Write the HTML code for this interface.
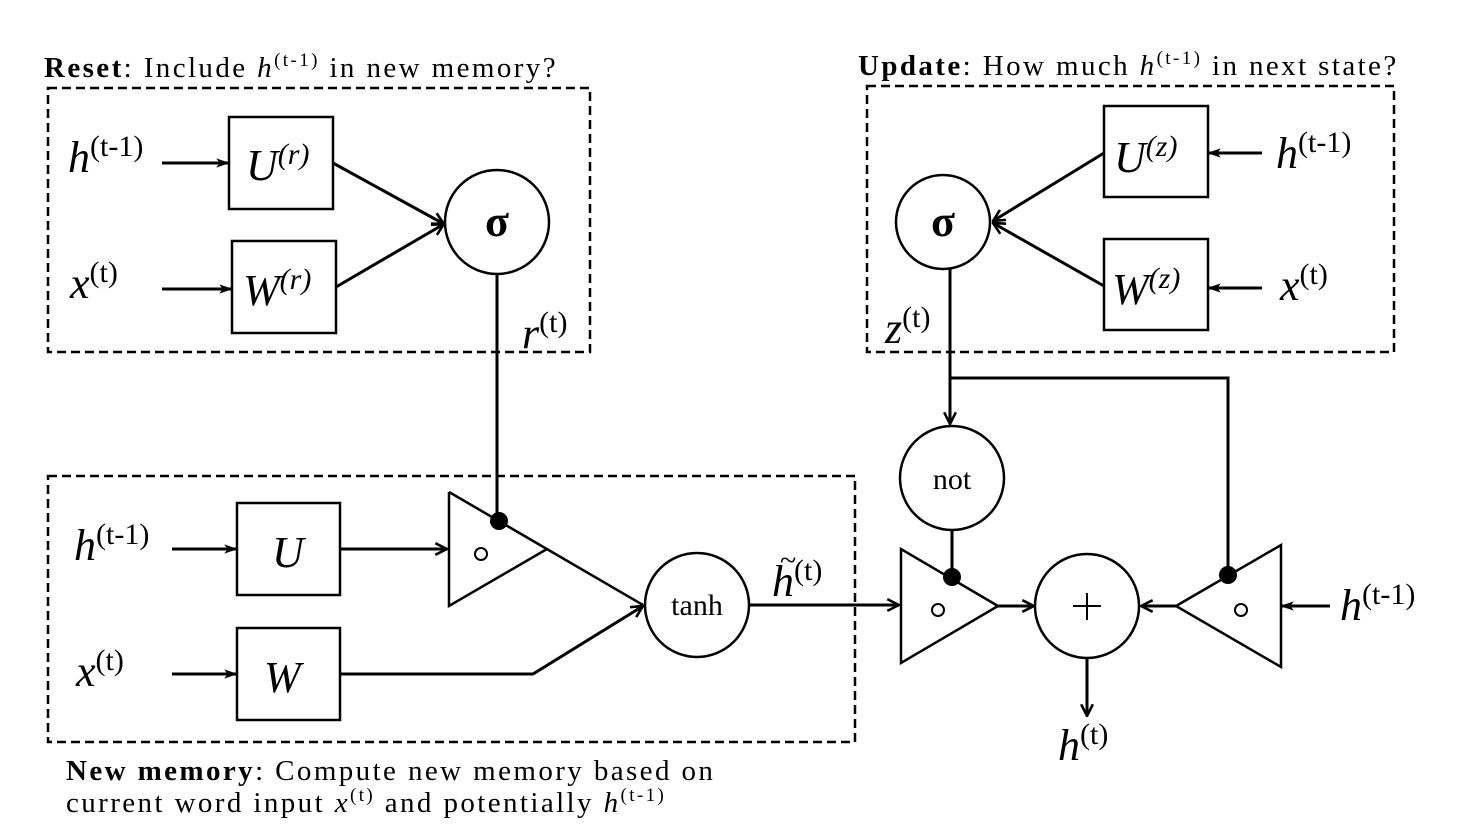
<!DOCTYPE html>
<html><head><meta charset="utf-8"><style>
html,body{margin:0;padding:0;background:#fff;}
svg{display:block;}
text{font-family:"Liberation Serif","DejaVu Serif",serif;fill:#000;}
.i{font-style:italic;}
.cap{font-size:29px;letter-spacing:2.4px;}
</style></head><body>
<svg width="1484" height="834" viewBox="0 0 1484 834" xmlns="http://www.w3.org/2000/svg">
<defs>
<marker id="a" viewBox="0 0 12 12" refX="11" refY="6" markerWidth="14" markerHeight="14" orient="auto" markerUnits="userSpaceOnUse">
<path d="M0,2 L12,6 L0,10 L3,6 Z" fill="#000"/>
</marker>
<marker id="b" viewBox="0 0 12 12" refX="11" refY="6" markerWidth="14" markerHeight="14" orient="auto" markerUnits="userSpaceOnUse">
<path d="M1,1 L11,6 L1,11" fill="none" stroke="#000" stroke-width="2.2"/>
</marker>
</defs>
<g fill="none" stroke="#000" stroke-width="2.5" stroke-dasharray="9,5">
<rect x="48" y="88" width="542" height="264"/>
<rect x="867" y="86" width="527" height="266"/>
<rect x="48" y="476" width="807" height="266"/>
</g>
<g fill="none" stroke="#000" stroke-width="2.5">
<rect x="229" y="117" width="104" height="92"/>
<rect x="232" y="241" width="104" height="92"/>
<rect x="1104" y="106" width="104" height="91"/>
<rect x="1104" y="239" width="104" height="91"/>
<rect x="237" y="503" width="103" height="92"/>
<rect x="237" y="628" width="103" height="92"/>
<circle cx="497" cy="222" r="52"/>
<circle cx="943" cy="222" r="47"/>
<circle cx="952" cy="478" r="52"/>
<circle cx="697" cy="605" r="52"/>
<circle cx="1087" cy="606" r="52"/>
<path d="M449,492 L643,605 M449,492 L449,606 L547,549"/>
<path d="M998,606 L901,549 L901,663 Z"/>
<path d="M1176,606 L1281,545 L1281,667 Z"/>
</g>
<g fill="none" stroke="#000" stroke-width="3">
<line x1="162" y1="163" x2="229" y2="163" marker-end="url(#a)"/>
<line x1="162" y1="289" x2="232" y2="289" marker-end="url(#a)"/>
<line x1="333" y1="163" x2="444" y2="224" marker-end="url(#b)"/>
<line x1="336" y1="287" x2="444" y2="224" marker-end="url(#b)"/>
<line x1="497" y1="274" x2="497" y2="520"/>
<line x1="1262" y1="153" x2="1208" y2="153" marker-end="url(#a)"/>
<line x1="1262" y1="288" x2="1208" y2="288" marker-end="url(#a)"/>
<line x1="1104" y1="153" x2="993" y2="221" marker-end="url(#b)"/>
<line x1="1104" y1="286" x2="993" y2="223" marker-end="url(#b)"/>
<line x1="950" y1="269" x2="950" y2="424" marker-end="url(#b)"/>
<polyline points="950,378 1228,378 1228,575"/>
<line x1="952" y1="530" x2="952" y2="577"/>
<line x1="172" y1="549" x2="237" y2="549" marker-end="url(#a)"/>
<line x1="172" y1="674" x2="237" y2="674" marker-end="url(#a)"/>
<line x1="340" y1="549" x2="447" y2="549" marker-end="url(#b)"/>
<polyline points="340,674 533,674 643,606" marker-end="url(#b)"/>
<line x1="749" y1="605" x2="899" y2="605" marker-end="url(#b)"/>
<line x1="998" y1="606" x2="1034" y2="606" marker-end="url(#b)"/>
<line x1="1176" y1="606" x2="1141" y2="606" marker-end="url(#b)"/>
<line x1="1330" y1="606" x2="1281" y2="606" marker-end="url(#a)"/>
<line x1="1087" y1="658" x2="1087" y2="716" marker-end="url(#b)"/>
</g>
<g fill="#000">
<circle cx="499" cy="521" r="9"/>
<circle cx="952" cy="577" r="9"/>
<circle cx="1228" cy="575" r="9"/>
</g>
<g fill="none" stroke="#000" stroke-width="2">
<circle cx="481" cy="554" r="6"/>
<circle cx="938" cy="610" r="6"/>
<circle cx="1241" cy="610" r="6"/>
<path d="M1087,593 V620 M1073,606 H1101"/>
</g>
<text x="44" y="77" class="cap"><tspan font-weight="bold">Reset</tspan>: Include <tspan class="i">h</tspan><tspan font-size="19" dy="-11">(t-1)</tspan><tspan dy="11"> in new memory?</tspan></text>
<text x="858" y="75" class="cap"><tspan font-weight="bold">Update</tspan>: How much <tspan class="i">h</tspan><tspan font-size="19" dy="-11">(t-1)</tspan><tspan dy="11"> in next state?</tspan></text>
<text x="66" y="780" class="cap"><tspan font-weight="bold">New memory</tspan>: Compute new memory based on</text>
<text x="66" y="812" class="cap">current word input <tspan class="i">x</tspan><tspan font-size="19" dy="-11">(t)</tspan><tspan dy="11"> and potentially </tspan><tspan class="i">h</tspan><tspan font-size="19" dy="-11">(t-1)</tspan></text>
<g font-size="44">
<text x="68" y="172"><tspan class="i">h</tspan><tspan font-size="30" dy="-16">(t-1)</tspan></text>
<text x="70" y="298"><tspan class="i">x</tspan><tspan font-size="30" dy="-16">(t)</tspan></text>
<text x="246" y="180"><tspan class="i">U</tspan><tspan font-size="30" dy="-16" class="i">(r)</tspan></text>
<text x="243" y="305"><tspan class="i">W</tspan><tspan font-size="30" dy="-16" class="i">(r)</tspan></text>
<text x="522" y="348"><tspan class="i">r</tspan><tspan font-size="30" dy="-16">(t)</tspan></text>
<text x="1114" y="172"><tspan class="i">U</tspan><tspan font-size="30" dy="-16" class="i">(z)</tspan></text>
<text x="1112" y="304"><tspan class="i">W</tspan><tspan font-size="30" dy="-16" class="i">(z)</tspan></text>
<text x="1276" y="168"><tspan class="i">h</tspan><tspan font-size="30" dy="-16">(t-1)</tspan></text>
<text x="1280" y="300"><tspan class="i">x</tspan><tspan font-size="30" dy="-16">(t)</tspan></text>
<text x="885" y="343"><tspan class="i">z</tspan><tspan font-size="30" dy="-16">(t)</tspan></text>
<text x="74" y="560"><tspan class="i">h</tspan><tspan font-size="30" dy="-16">(t-1)</tspan></text>
<text x="76" y="686"><tspan class="i">x</tspan><tspan font-size="30" dy="-16">(t)</tspan></text>
<text x="272" y="567" class="i">U</text>
<text x="264" y="692" class="i">W</text>
<text x="772" y="596"><tspan class="i">h</tspan><tspan font-size="30" dy="-16">(t)</tspan></text>
<text x="1340" y="620"><tspan class="i">h</tspan><tspan font-size="30" dy="-16">(t-1)</tspan></text>
<text x="1058" y="760"><tspan class="i">h</tspan><tspan font-size="30" dy="-16">(t)</tspan></text>
</g>
<text x="780" y="570" font-size="30">~</text>
<text x="497" y="236" font-size="44" font-weight="bold" text-anchor="middle">σ</text>
<text x="943" y="236" font-size="44" font-weight="bold" text-anchor="middle">σ</text>
<text x="952" y="489" font-size="30" text-anchor="middle">not</text>
<text x="697" y="615" font-size="30" text-anchor="middle">tanh</text>
</svg>
</body></html>
